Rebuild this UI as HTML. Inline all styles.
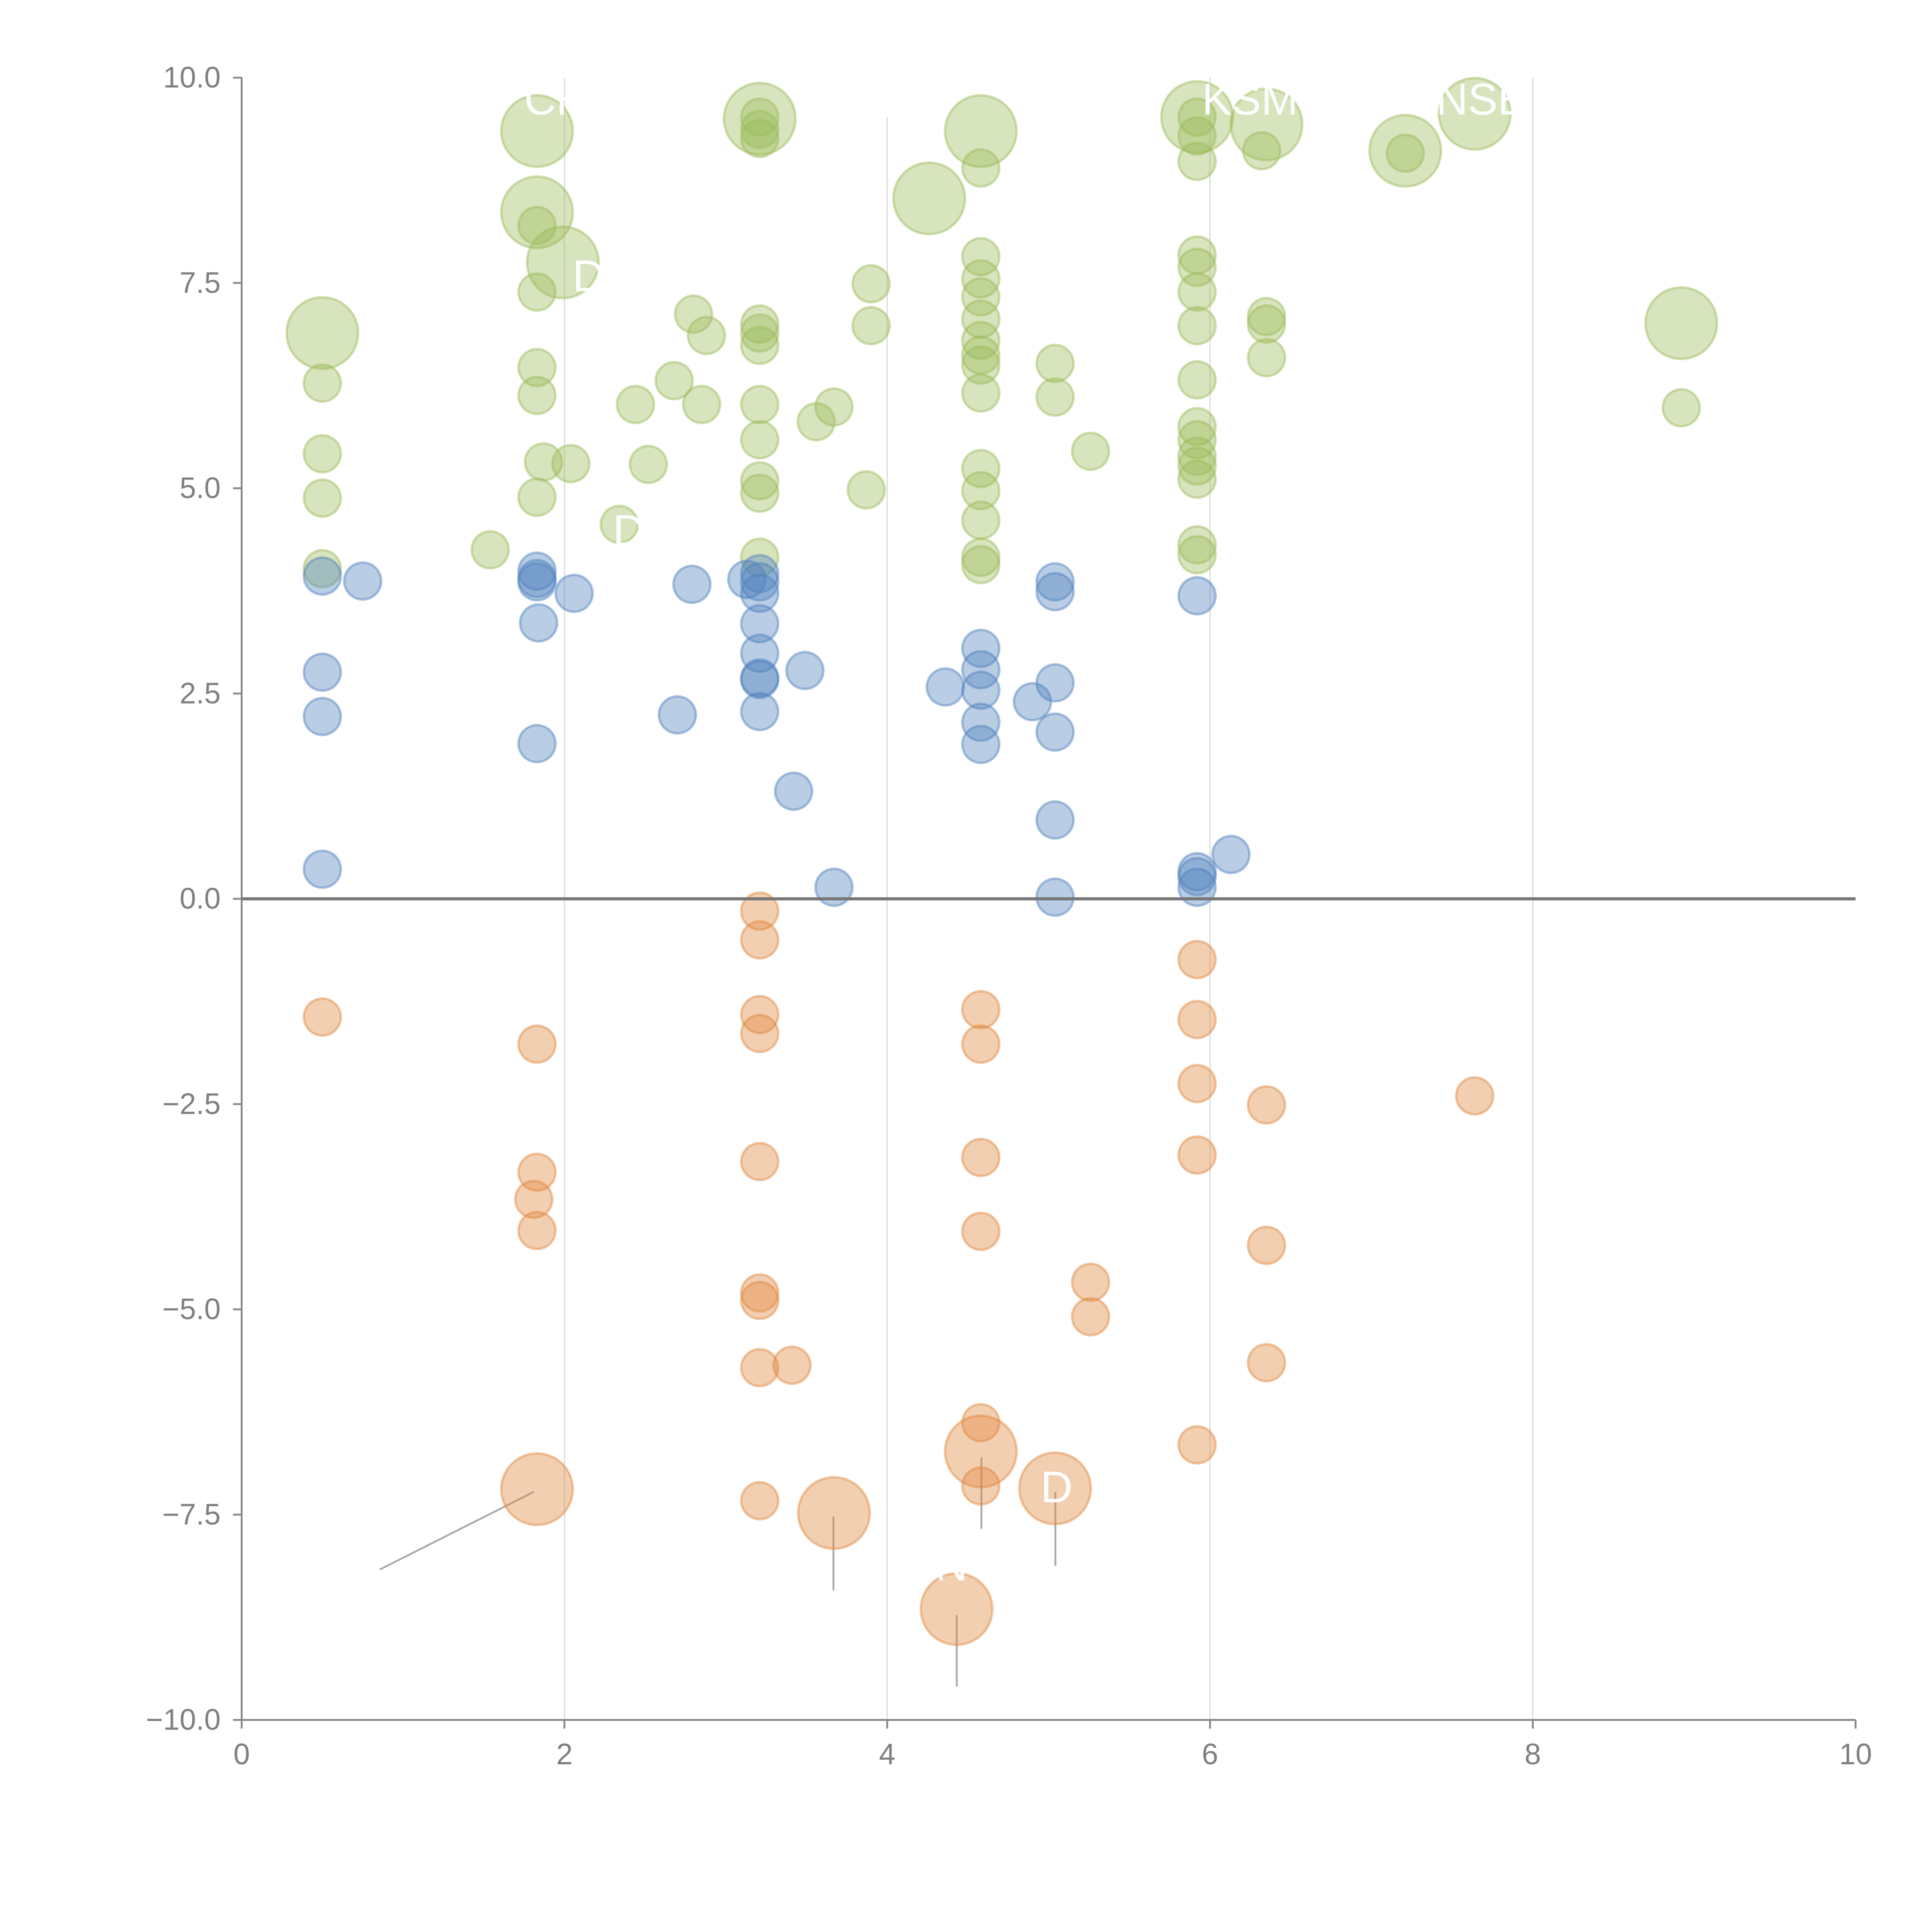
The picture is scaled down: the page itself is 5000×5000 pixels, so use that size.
<!DOCTYPE html>
<html><head><meta charset="utf-8"><style>
html,body{margin:0;padding:0;background:#fff;}
svg{display:block;}
text{font-family:"Liberation Sans",Arial,sans-serif;}
</style></head><body>
<svg id="chart" width="5000" height="5000" viewBox="0 0 1567 1567" xmlns="http://www.w3.org/2000/svg"></svg>
<script>
const xTicks=[0,2,4,6,8,10];
const yTicks=[-10,-7.5,-5,-2.5,0,2.5,5,7.5,10];
const yTickLabels=["\u221210.0","\u22127.5","\u22125.0","\u22122.5","0.0","2.5","5.0","7.5","10.0"];
const greenSmallX=[0.5,0.5,0.5,0.5,1.54,1.83,1.83,1.83,1.83,1.87,2.04,1.83,2.34,2.44,2.52,2.68,2.8,2.88,2.85,3.21,3.21,3.21,3.21,3.21,3.21,3.21,3.21,3.21,3.21,3.21,3.56,3.67,3.9,3.9,3.87,4.58,4.58,4.58,4.58,4.58,4.58,4.58,4.58,4.58,4.58,4.58,4.58,4.58,4.58,5.04,5.04,5.26,5.92,5.92,5.92,5.92,5.92,5.92,5.92,5.92,5.92,5.92,5.92,5.92,5.92,5.92,5.92,6.32,6.35,6.35,6.35,7.21,8.92];
const greenSmallY=[6.28,5.42,4.88,4.02,4.25,7.39,8.2,6.47,6.13,5.32,5.3,4.89,4.56,6.02,5.29,6.31,7.12,6.86,6.02,7.0,6.89,6.74,6.02,5.59,5.09,4.94,4.16,9.52,9.37,9.26,5.81,5.99,7.49,6.98,4.98,8.9,7.82,7.55,7.33,7.06,6.8,6.62,6.5,6.16,5.24,4.97,4.61,4.16,4.07,6.52,6.11,5.45,9.52,9.29,8.98,7.84,7.69,7.39,6.98,6.32,5.75,5.59,5.39,5.27,5.11,4.31,4.19,9.11,7.09,7.0,6.59,9.08,5.98];
const greenLargeX=[0.5,1.83,1.83,1.99,3.21,4.26,4.58,5.92,6.35,7.21,7.64,8.92];
const greenLargeY=[6.89,9.35,8.36,7.75,9.5,8.53,9.35,9.52,9.43,9.11,9.56,7.01];
const blueX=[0.5,0.75,0.5,0.5,0.5,1.83,1.83,1.83,1.84,1.83,2.06,2.7,2.79,3.13,3.21,3.21,3.21,3.21,3.21,3.21,3.21,3.21,3.49,3.42,3.67,4.36,4.58,4.58,4.58,4.58,4.58,4.9,5.04,5.04,5.04,5.04,5.04,5.04,5.92,5.92,5.92,5.92,6.13];
const blueY=[3.93,3.87,2.76,2.22,0.36,3.99,3.9,3.86,3.36,1.89,3.72,2.24,3.83,3.89,3.96,3.86,3.72,3.35,2.99,2.69,2.67,2.28,2.78,1.31,0.14,2.58,3.05,2.79,2.54,2.15,1.88,2.4,3.86,3.74,2.63,2.03,0.96,0.02,3.69,0.33,0.27,0.14,0.54];
const orangeSmallX=[0.5,1.83,1.83,1.81,1.83,3.21,3.21,3.21,3.21,3.21,3.21,3.21,3.21,3.41,3.21,4.58,4.58,4.58,4.58,4.58,4.58,5.26,5.26,5.92,5.92,5.92,5.92,5.92,6.35,6.35,6.35,7.64];
const orangeSmallY=[-1.44,-1.77,-3.33,-3.66,-4.04,-0.15,-0.5,-1.41,-1.64,-3.2,-4.8,-4.89,-5.71,-5.68,-7.33,-1.35,-1.77,-3.15,-4.05,-6.38,-7.15,-4.67,-5.09,-0.74,-1.47,-2.25,-3.12,-6.65,-2.51,-4.22,-5.65,-2.4];
const orangeLargeX=[1.83,3.67,4.58,5.04,4.43];
const orangeLargeY=[-7.19,-7.48,-6.73,-7.18,-8.65];
const labelTexts=["CH","KSM","NSE","DW","D","DN","D"];
const labelX=[1.75,5.95,7.4,2.05,2.3,4.1,4.95];
const labelY=[9.55,9.55,9.55,7.4,4.3,-8.3,-7.35];

const NS="http://www.w3.org/2000/svg";
const svg=document.getElementById('chart');
const X0=196,X1=1505,Y0=1395,Y1=63;
const sx=v=>X0+(v-0)/(10-0)*(X1-X0);
const sy=v=>Y0-(v+10)/20*(Y0-Y1);
function mk(tag,attrs,parent){const e=document.createElementNS(NS,tag);for(const k in attrs)e.setAttribute(k,attrs[k]);(parent||svg).appendChild(e);return e;}

const grid=mk('g',{});


[2,4,6,8].forEach(v=>{
  const l=mk('line',{x1:sx(v),x2:sx(v),y1:v===4?95:Y1,y2:Y0,stroke:'#dcdcdc','stroke-width':1},grid);
  
  
});

const axes=mk('g',{});


const ya=mk('line',{x1:X0,x2:X0,y1:Y1,y2:Y0,stroke:'#888','stroke-width':1.5},axes);


const xa=mk('line',{x1:X0,x2:X1,y1:Y0,y2:Y0,stroke:'#888','stroke-width':1.5},axes);


xTicks.forEach(v=>{
  const t=mk('line',{x1:sx(v),x2:sx(v),y1:Y0,y2:Y0+7,stroke:'#888','stroke-width':1.5},axes);
  
  
  const tx=mk('text',{x:sx(v),y:Y0+36,'text-anchor':'middle','font-size':24,fill:'#808080'},axes);
  tx.textContent=String(v);
  
  
});
yTicks.forEach((v,i)=>{
  const t=mk('line',{x1:X0-7,x2:X0,y1:sy(v),y2:sy(v),stroke:'#888','stroke-width':1.5},axes);
  
  
  const tx=mk('text',{x:X0-17,y:sy(v)+8,'text-anchor':'end','font-size':24,fill:'#808080'},axes);
  tx.textContent=yTickLabels[i];
  
  
});

const leaders=mk('g',{stroke:'#aaa','stroke-width':1.5});


[[433,1210,308,1273],[676,1230,676,1290],[796,1182,796,1240],[856,1210,856,1270],[776,1310,776,1368]].forEach(p=>{
  const l=mk('line',{x1:p[0],y1:p[1],x2:p[2],y2:p[3]},leaders);
  
  
});

function series(xs,ys,r,fill,stroke,name){
  const g=mk('g',{});
  
  
  xs.forEach((x,i)=>{
    const c=mk('circle',{cx:sx(x),cy:sy(ys[i]),r:r,fill:fill,'fill-opacity':0.4,stroke:stroke,'stroke-opacity':0.45,'stroke-width':2},g);
    
    
  });
}
series(greenSmallX,greenSmallY,15,'#9bbb59','#9bbb59','green-small');
series(greenLargeX,greenLargeY,29,'#9bbb59','#9bbb59','green-large');
series(blueX,blueY,15,'#4f81bd','#4f81bd','blue');
series(orangeSmallX,orangeSmallY,15,'#e0873e','#e0873e','orange-small');
series(orangeLargeX,orangeLargeY,29,'#e0873e','#e0873e','orange-large');

const zl=mk('line',{x1:X0,x2:X1,y1:sy(0),y2:sy(0),stroke:'#777','stroke-width':2.5});



const labs=mk('g',{});


labelTexts.forEach((t,i)=>{
  const tx=mk('text',{x:sx(labelX[i]),y:sy(labelY[i]),'font-size':36,fill:'#fff'},labs);
  tx.textContent=t;
  
  
});
</script>
</body></html>
